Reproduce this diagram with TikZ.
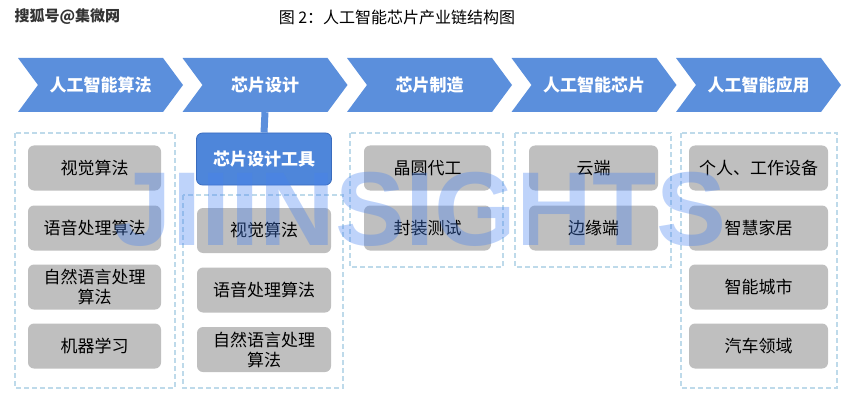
\documentclass[tikz,border=0pt]{standalone}
\usepackage{fontspec}
\setmainfont{Noto Sans CJK SC}
\newfontfamily\wmfont{Liberation Sans}
\usetikzlibrary{shapes.symbols}
\definecolor{chevblue}{RGB}{91,143,220}
\definecolor{toolblue}{RGB}{78,134,218}
\definecolor{tooledge}{RGB}{58,108,190}
\definecolor{cellgray}{RGB}{191,191,191}
\definecolor{grpblue}{RGB}{190,218,234}
\definecolor{wmblue}{RGB}{70,130,240}

\begin{document}
\begin{tikzpicture}
  [x=1pt,y=-1pt,
   stage/.style={signal,signal from=west,signal to=east,signal pointer angle=107,fill=chevblue,
     minimum width=165pt,minimum height=54pt,inner sep=0pt,text=white,font=\bfseries\fontsize{17}{17}\selectfont},
   cell/.style={rounded corners=6pt,fill=cellgray,minimum height=45pt,inner sep=0pt,align=center,
     font=\fontsize{17}{20}\selectfont},
   grp/.style={draw=grpblue,dash pattern=on 5pt off 3pt,line width=1.2pt}]
  \useasboundingbox (0,0) rectangle (850,414);
  \node[font=\bfseries\fontsize{15}{15}\selectfont,text=black!80,anchor=west] (src) at (11,17) {搜狐号@集微网};
  \node[font=\fontsize{16}{16}\selectfont] (ttl) at (397,17) {图 2：人工智能芯片产业链结构图};

  \node[stage] (s1) at (100.5,85) {人工智能算法};
  \node[stage] (s2) at (265,85)   {芯片设计};
  \node[stage] (s3) at (429.5,85) {芯片制造};
  \node[stage] (s4) at (594,85)   {人工智能芯片};
  \node[stage] (s5) at (758.5,85) {人工智能应用};

  \draw[grp] (15,133) rectangle (175,388);
  \draw[grp] (183,195) rectangle (343,388);
  \draw[grp] (350,133) rectangle (503,267);
  \draw[grp] (515,133) rectangle (671,267);
  \draw[grp] (681,133) rectangle (837,388);

  \node[cell,minimum width=133pt] (a1) at (94.5,168) {视觉算法};
  \node[cell,minimum width=133pt] (a2) at (94.5,228) {语音处理算法};
  \node[cell,minimum width=133pt] (a3) at (94.5,287) {自然语言处理\\算法};
  \node[cell,minimum width=133pt] (a4) at (94.5,346) {机器学习};

  \node[cell,fill=toolblue,draw=tooledge,line width=0.8pt,minimum width=135pt,minimum height=52pt,
    text=white,font=\bfseries\fontsize{17}{17}\selectfont] (t) at (264,159) {芯片设计工具};
  \node[cell,minimum width=134pt] (b1) at (264,230.5) {视觉算法};
  \node[cell,minimum width=134pt] (b2) at (264,290)   {语音处理算法};
  \node[cell,minimum width=134pt] (b3) at (264,349.5) {自然语言处理\\算法};

  \node[cell,minimum width=127pt] (c1) at (427.5,168) {晶圆代工};
  \node[cell,minimum width=127pt] (c2) at (427.5,228) {封装测试};

  \node[cell,minimum width=129pt] (d1) at (593.5,168) {云端};
  \node[cell,minimum width=129pt] (d2) at (593.5,228) {边缘端};

  \node[cell,minimum width=139pt] (e1) at (758.5,168) {个人、工作设备};
  \node[cell,minimum width=139pt] (e2) at (758.5,228) {智慧家居};
  \node[cell,minimum width=139pt] (e3) at (758.5,287) {智能城市};
  \node[cell,minimum width=139pt] (e4) at (758.5,346) {汽车领域};

  \draw[chevblue,line width=7pt] (s2.south) -- (t.north);

  \node[font=\wmfont\bfseries\fontsize{105}{105}\selectfont,text=wmblue,opacity=0.35,anchor=base] (wm) at (420,245) {JIIINSIGHTS};
\end{tikzpicture}
\end{document}
